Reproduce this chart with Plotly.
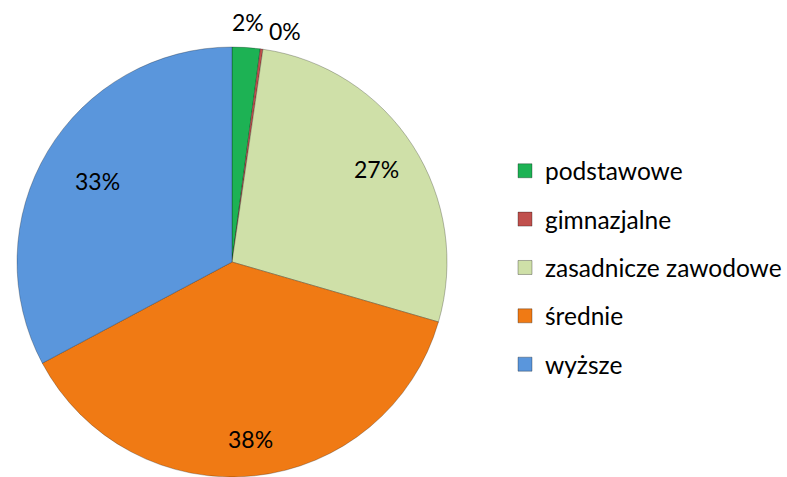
import math
import plotly.graph_objects as go

categories = ["podstawowe", "gimnazjalne", "zasadnicze zawodowe", "średnie", "wyższe"]
values = [2.1, 0.2, 27.2, 37.7, 32.8]
colors = ["#1DB254", "#C0504D", "#CFE0A8", "#F07A14", "#5A96DC"]

# label placement styling (fraction of radius, angle nudge in degrees)
label_radius = [1.12, 1.10, 0.80, 0.83, 0.73]
label_nudge = [0, 5, 0, 0, 0]

FONT = "Lato"
W, H = 787, 477
dom_x = [17 / W, 447 / W]
dom_y = [0.0, 430 / H]

fig = go.Figure()
fig.add_trace(go.Pie(
    labels=categories, values=values, sort=False, direction="clockwise", rotation=0,
    marker=dict(colors=colors, line=dict(color="rgba(0,0,0,0.25)", width=1)),
    textinfo="none",
    showlegend=False,
    domain=dict(x=dom_x, y=dom_y),
    automargin=False,
    hoverinfo="label+percent",
))

# percentage labels placed at slice mid-angles computed from the values
total = sum(values)
cx = (dom_x[0] + dom_x[1]) / 2
cy = (dom_y[0] + dom_y[1]) / 2
r_px = min((dom_x[1] - dom_x[0]) * W, (dom_y[1] - dom_y[0]) * H) / 2
cum = 0.0
for v, rf, nd in zip(values, label_radius, label_nudge):
    mid = (cum + v / 2) / total * 360 + nd
    cum += v
    a = math.radians(mid)
    x = cx + rf * r_px * math.sin(a) / W
    y = cy + rf * r_px * math.cos(a) / H
    fig.add_annotation(x=x, y=y, xref="paper", yref="paper", showarrow=False,
                       xanchor="center", yanchor="middle",
                       text=f"{round(v / total * 100)}%",
                       font=dict(family=FONT, size=23, color="black"))

for i, (c, col) in enumerate(zip(categories, colors)):
    fig.add_trace(go.Scatter(
        x=[None], y=[None], mode="markers", name=c, legendgroup=str(i),
        marker=dict(symbol="square", size=14, color=col, line=dict(color="rgba(0,0,0,0.3)", width=1)),
        showlegend=True,
    ))

fig.update_layout(
    width=W, height=H,
    margin=dict(l=0, r=0, t=0, b=0),
    paper_bgcolor="white", plot_bgcolor="white",
    xaxis=dict(visible=False), yaxis=dict(visible=False),
    font=dict(family=FONT, size=20, color="black"),
    legend=dict(x=0.642, y=0.689, xanchor="left", yanchor="top",
                traceorder="grouped", tracegroupgap=13.5,
                font=dict(family=FONT, size=24.5, color="black"),
                itemwidth=30, bgcolor="rgba(0,0,0,0)"),
)

fig.write_html("out.html", config={"displayModeBar": False},
               post_script="document.body.style.margin='0';")
